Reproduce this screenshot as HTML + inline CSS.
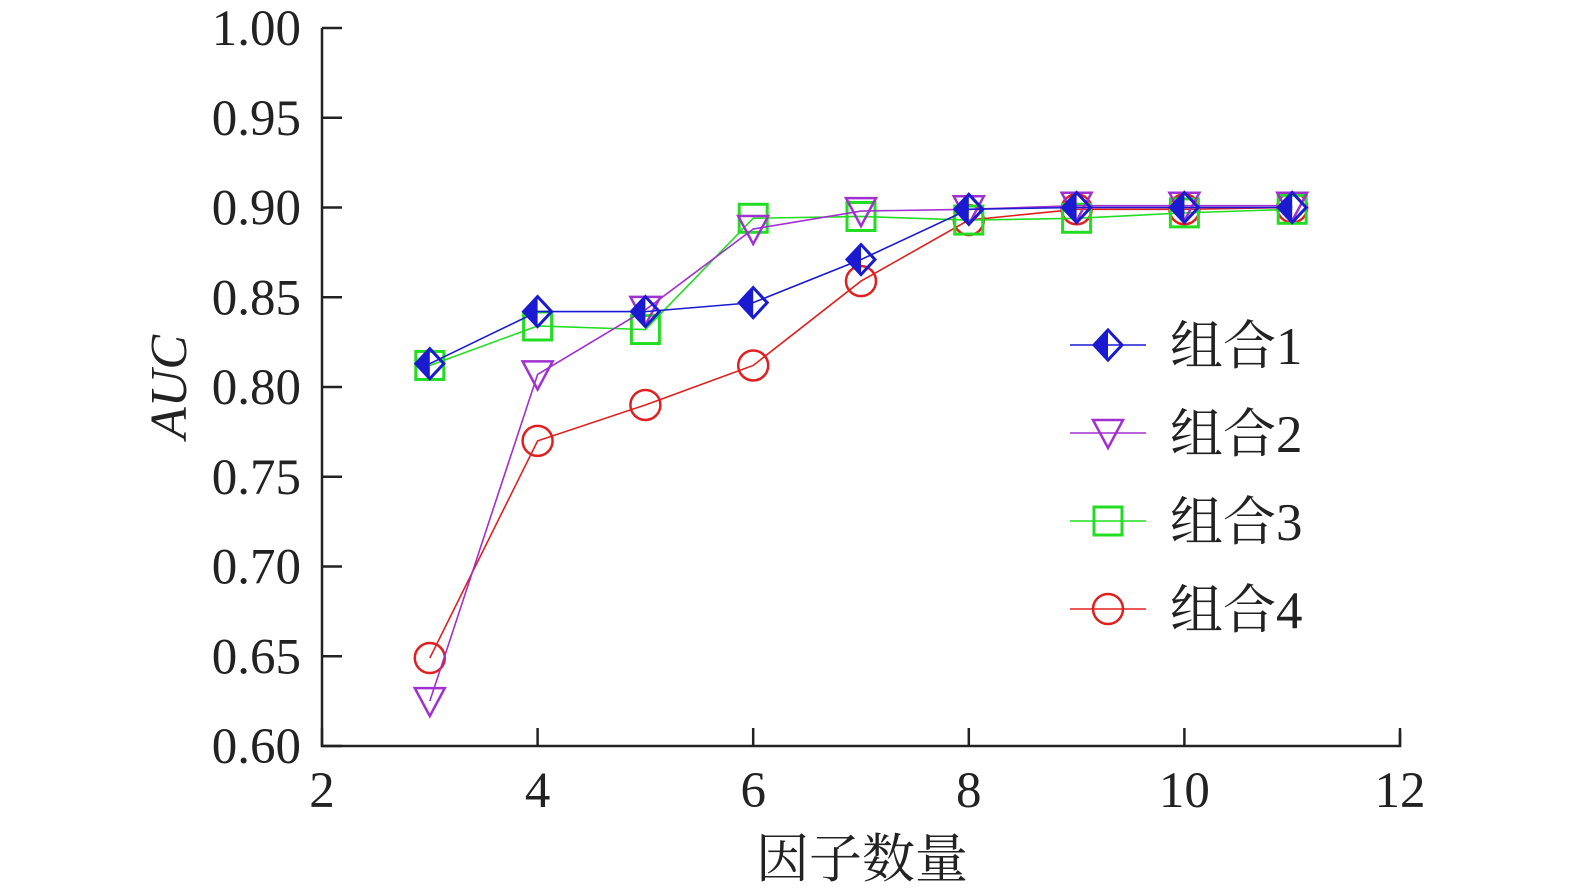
<!DOCTYPE html>
<html><head><meta charset="utf-8"><style>
html,body{margin:0;padding:0;background:#fff;}
svg{display:block;}
text{font-family:"Liberation Serif","Noto Serif CJK SC",serif;fill:#222;}
</style></head><body>
<svg id="s" width="1575" height="894" xmlns="http://www.w3.org/2000/svg"></svg>
<script>
const s=document.getElementById('s');
let h='';
const X=n=>322+(n-2)*107.8, Y=v=>28+(1-v)*1795;
h+='<path d="M322,28 V746 H1400 V732" fill="none" stroke="#222" stroke-width="2.5"/>';
for(let i=0;i<=8;i++){const v=0.6+i*0.05,y=Y(v);
 h+=`<line x1="322" x2="342" y1="${y}" y2="${y}" stroke="#222" stroke-width="2.5"/>`;
 h+=`<text x="301" y="${y+17}" font-size="51" text-anchor="end">${v.toFixed(2)}</text>`;}
for(let n=2;n<=12;n+=2){const x=X(n);
 h+=`<line x1="${x}" x2="${x}" y1="746" y2="728" stroke="#222" stroke-width="2.5"/>`;
 h+=`<text x="${x}" y="807" font-size="51" text-anchor="middle">${n}</text>`;}
h+='<text x="862" y="877" font-size="53" text-anchor="middle">因子数量</text>';
h+='<text transform="translate(186,387) rotate(-90)" font-size="52" font-style="italic" text-anchor="middle">AUC</text>';
const xs=[3,4,5,6,7,8,9,10,11];
const S=[
 {c:'#1a1ad0',m:'d',d:[0.813,0.842,0.842,0.847,0.871,0.899,0.900,0.900,0.900]},
 {c:'#a030d0',m:'t',d:[0.625,0.807,0.843,0.888,0.898,0.899,0.901,0.901,0.901]},
 {c:'#22dd22',m:'s',d:[0.812,0.834,0.832,0.894,0.895,0.893,0.894,0.897,0.899]},
 {c:'#e02020',m:'o',d:[0.649,0.770,0.790,0.812,0.859,0.893,0.899,0.899,0.900]}];
function mk(m,x,y,c){
 if(m=='d')return `<path d="M${x},${y-15} L${x+14},${y} L${x},${y+15} L${x-14},${y} Z" fill="none" stroke="${c}" stroke-width="3"/><path d="M${x},${y-15} L${x},${y+15} L${x-14},${y} Z" fill="${c}"/>`;
 if(m=='t')return `<path d="M${x-15},${y-13} L${x+15},${y-13} L${x},${y+15} Z" fill="none" stroke="${c}" stroke-width="2.5"/>`;
 if(m=='s')return `<rect x="${x-14}" y="${y-14}" width="28" height="28" fill="none" stroke="${c}" stroke-width="3"/>`;
 return `<circle cx="${x}" cy="${y}" r="15" fill="none" stroke="${c}" stroke-width="2.5"/>`;}
for(const i of [3,2,1,0]){const se=S[i];
 h+=`<polyline points="${xs.map((n,k)=>X(n)+','+Y(se.d[k])).join(' ')}" fill="none" stroke="${se.c}" stroke-width="1.6"/>`;
 xs.forEach((n,k)=>h+=mk(se.m,X(n),Y(se.d[k]),se.c));}
S.forEach((se,i)=>{const y=345+i*88;
 h+=`<line x1="1070" x2="1146" y1="${y}" y2="${y}" stroke="${se.c}" stroke-width="1.6"/>`;
 h+=mk(se.m,1108,y,se.c);
 h+=`<text x="1170" y="${y+19}" font-size="53">组合${i+1}</text>`;});
s.innerHTML=h;
</script>
</body></html>
